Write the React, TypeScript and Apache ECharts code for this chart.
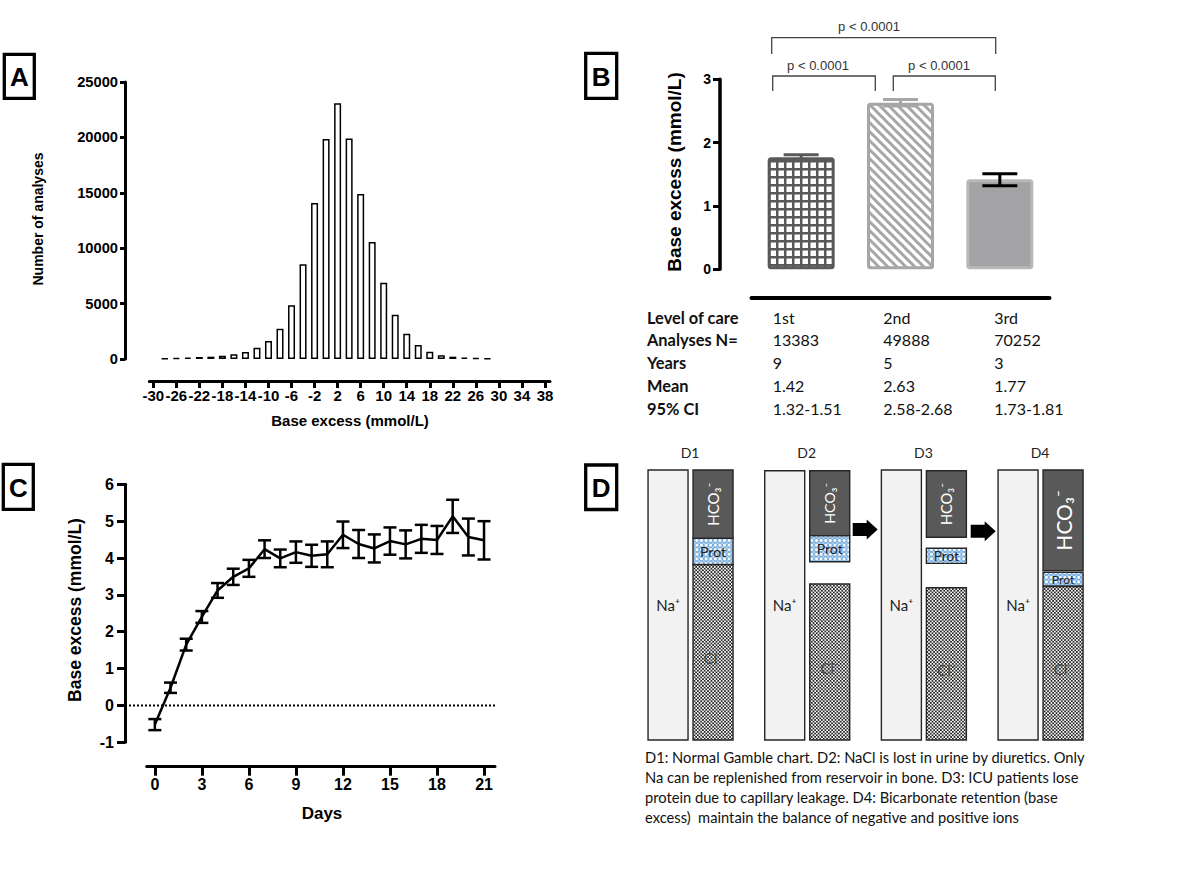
import React, { useEffect, useRef } from "react";
import * as echarts from "echarts";

// ---------- Panel A: histogram ----------
const histBins = [-28, -26, -24, -22, -20, -18, -16, -14, -12, -10, -8, -6, -4, -2, 0, 2, 4, 6, 8, 10, 12, 14, 16, 18, 20, 22, 24, 26, 28];
const histCounts = [60, 90, 120, 180, 210, 300, 420, 630, 1020, 1620, 2730, 4840, 8560, 14090, 19860, 23080, 19890, 14900, 10550, 6880, 4000, 2280, 1260, 660, 330, 210, 120, 90, 60];
const histXTicks = [-30, -26, -22, -18, -14, -10, -6, -2, 2, 6, 10, 14, 18, 22, 26, 30, 34, 38];

// ---------- Panel B: bars + table ----------
const careLevels = ["1st", "2nd", "3rd"];
const barMeans = [1.77, 2.63, 1.42];
const barCILow = [1.73, 2.58, 1.32];
const barCIHigh = [1.81, 2.68, 1.51];
const tableRowLabels = ["Level of care", "Analyses N=", "Years", "Mean", "95% CI"];
const tableAnalyses = ["13383", "49888", "70252"];
const tableYears = ["9", "5", "3"];
const tableMeans = ["1.42", "2.63", "1.77"];
const tableCI = ["1.32-1.51", "2.58-2.68", "1.73-1.81"];
const pValueLabel = "p < 0.0001";

// ---------- Panel C: time course ----------
const days = [0, 1, 2, 3, 4, 5, 6, 7, 8, 9, 10, 11, 12, 13, 14, 15, 16, 17, 18, 19, 20, 21];
const dayMeans = [-0.52, 0.48, 1.65, 2.4, 3.12, 3.49, 3.72, 4.24, 3.99, 4.16, 4.06, 4.1, 4.63, 4.38, 4.26, 4.46, 4.37, 4.52, 4.49, 5.13, 4.57, 4.48];
const daySem = [0.15, 0.14, 0.16, 0.16, 0.2, 0.22, 0.23, 0.24, 0.24, 0.29, 0.3, 0.35, 0.36, 0.38, 0.38, 0.37, 0.38, 0.38, 0.38, 0.45, 0.5, 0.52];
const dayTicks = [0, 3, 6, 9, 12, 15, 18, 21];

// ---------- Panel D: Gamble charts (relative units, 0-100) ----------
const gambleColumns = ["D1", "D2", "D3", "D4"];
const naRange = [[0, 100], [0, 99.7], [0, 100], [0, 100]];
const clRange = [[0, 65], [0, 57.8], [0, 56.4], [0, 56.8]];
const protRange = [[65, 74.7], [66, 75.7], [65.4, 71], [57.1, 62.1]];
const hco3Range = [[74.7, 100], [75.7, 99.7], [75.1, 99.7], [62.7, 100]];
const captionLines = [
  "D1: Normal Gamble chart. D2: NaCl is lost in urine by diuretics. Only",
  "Na can be replenished from reservoir in bone. D3: ICU patients lose",
  "protein due to capillary leakage. D4: Bicarbonate retention (base",
  "excess)  maintain the balance of negative and positive ions",
];

const ARIAL = '"Liberation Sans", Arial, sans-serif';
const CAL = 'Lato, "DejaVu Sans", sans-serif';

function tile(w: number, h: number, body: string) {
  return {
    image:
      "data:image/svg+xml;charset=utf-8," +
      encodeURIComponent(
        `<svg xmlns="http://www.w3.org/2000/svg" width="${w}" height="${h}" viewBox="0 0 ${w} ${h}">${body}</svg>`
      ),
    repeat: "repeat",
    imageWidth: w,
    imageHeight: h,
  };
}

const gridTile = tile(8, 8, `<rect width="8" height="8" fill="#595959"/><rect x="2.5" y="2.5" width="5.5" height="5.5" fill="#fff"/>`);
const stripeTile = tile(
  9,
  9,
  `<rect width="9" height="9" fill="#fff"/><path d="M0,0L9,9M-4.5,4.5L4.5,13.5M4.5,-4.5L13.5,4.5" stroke="#a6a6a6" stroke-width="3"/>`
);
const protTile = tile(
  4.6,
  4.6,
  `<rect width="4.6" height="4.6" fill="#6fa8dc"/><circle cx="2.3" cy="2.3" r="1.5" fill="#fff"/><circle cx="0" cy="0" r="0.8" fill="#fff"/><circle cx="4.6" cy="0" r="0.8" fill="#fff"/><circle cx="0" cy="4.6" r="0.8" fill="#fff"/><circle cx="4.6" cy="4.6" r="0.8" fill="#fff"/>`
);
const clTile = tile(
  3.4,
  3.4,
  `<rect width="3.4" height="3.4" fill="#fff"/><rect x="0" y="0" width="1.7" height="1.7" fill="#222"/><rect x="1.7" y="1.7" width="1.7" height="1.7" fill="#222"/><rect x="1.2" y="1.2" width="0.8" height="0.8" fill="#666"/>`
);

const barStyles = [
  { color: gridTile, borderColor: "#595959", borderWidth: 3, borderRadius: 2 },
  { color: stripeTile, borderColor: "#a6a6a6", borderWidth: 3, borderRadius: 2 },
  { color: "#a3a3a5", borderColor: "#b8b8b8", borderWidth: 3, borderRadius: 2 },
];
const errColorsB = ["#595959", "#a6a6a6", "#000"];

const makeErrorBar = (capW: number, lw: number, colorFor: (i: number) => string) => (params: any, api: any) => {
  const x = api.value(0);
  const lo = api.value(1);
  const hi = api.value(2);
  const pLo = api.coord([x, lo]);
  const pHi = api.coord([x, hi]);
  const st = { stroke: colorFor(params.dataIndex), lineWidth: lw, fill: "none" };
  return {
    type: "group",
    children: [
      { type: "line", shape: { x1: pLo[0], y1: pLo[1], x2: pHi[0], y2: pHi[1] }, style: st },
      { type: "line", shape: { x1: pLo[0] - capW / 2, y1: pLo[1], x2: pLo[0] + capW / 2, y2: pLo[1] }, style: st },
      { type: "line", shape: { x1: pHi[0] - capW / 2, y1: pHi[1], x2: pHi[0] + capW / 2, y2: pHi[1] }, style: st },
    ],
  };
};

type Kind = "na" | "cl" | "prot" | "hco3";
const gambleRender = (kind: Kind) => (params: any, api: any) => {
  const i = api.value(0);
  const lo = api.value(1);
  const hi = api.value(2);
  const cx = api.coord([i, 0])[0];
  const yB = api.coord([i, lo])[1];
  const yT = api.coord([i, hi])[1];
  const w = 40;
  const x0 = kind === "na" ? cx - 42 : cx + 3;
  const h = yB - yT;
  const fills: Record<Kind, any> = { na: "#f2f2f2", cl: clTile, prot: protTile, hco3: "#595959" };
  const children: any[] = [
    { type: "rect", shape: { x: x0, y: yT, width: w, height: h }, style: { fill: fills[kind], stroke: "#262626", lineWidth: 1.4 } },
  ];
  const mx = x0 + w / 2;
  const my = (yT + yB) / 2;
  if (kind === "na") {
    children.push({ type: "text", x: mx, y: my, style: { text: "Na⁺", fontFamily: CAL, fontSize: 15, fill: "#222", align: "center", verticalAlign: "middle" } });
  } else if (kind === "cl") {
    children.push({ type: "text", x: mx, y: my + 6, style: { text: "Cl⁻", fontFamily: CAL, fontSize: 15, fill: "#4a4a4a", align: "center", verticalAlign: "middle" } });
  } else if (kind === "prot") {
    children.push({ type: "text", x: mx, y: my, style: { text: "Prot", fontFamily: CAL, fontSize: Math.min(14, h * 0.9), fill: "#222", align: "center", verticalAlign: "middle" } });
  } else {
    children.push({
      type: "text",
      x: mx,
      y: my,
      rotation: Math.PI / 2,
      style: { text: "HCO₃⁻", fontFamily: CAL, fontSize: Math.min(21, h * 0.22), fill: "#fff", align: "center", verticalAlign: "middle" },
    });
  }
  return { type: "group", children };
};

const gambleSeries = (kind: Kind, ranges: number[][]) => ({
  type: "custom",
  xAxisIndex: 3,
  yAxisIndex: 3,
  data: ranges.map((r, i) => [i, r[0], r[1]]),
  encode: { x: 0, y: [1, 2] },
  renderItem: gambleRender(kind),
  silent: true,
});

const bold = (size: number) => ({ fontFamily: ARIAL, fontWeight: "bold", fontSize: size, color: "#000" });
const plain = (v: number) => String(v);

function buildOption(): any {
  const texts: any[] = [];
  const txt = (x: number, y: number, text: string, o: any = {}) =>
    texts.push({
      type: "text",
      x,
      y,
      rotation: o.rotation || 0,
      silent: true,
      style: {
        text,
        fontFamily: o.fontFamily || ARIAL,
        fontWeight: o.fontWeight || "normal",
        fontSize: o.fontSize || 14,
        fill: o.fill || "#000",
        align: o.align || "center",
        verticalAlign: "middle",
      },
    });

  // panel letter boxes
  const boxes: [string, number, number, number, number][] = [
    ["A", 4.3, 54.3, 30, 44],
    ["B", 585.7, 53.3, 31, 45],
    ["C", 3.3, 464.3, 30, 45],
    ["D", 585.7, 465, 31, 44.5],
  ];
  const boxEls = boxes.map(([l, x, y, w, h]) => ({
    type: "rect",
    silent: true,
    shape: { x, y, width: w, height: h },
    style: { fill: "none", stroke: "#000", lineWidth: 3.3 },
  }));
  boxes.forEach(([l, x, y, w, h]) => txt(x + w / 2, y + h / 2 + 1, l, { fontWeight: "bold", fontSize: 26 }));

  // axis titles
  txt(38, 219, "Number of analyses", { fontWeight: "bold", fontSize: 14, rotation: Math.PI / 2 });
  txt(350, 420, "Base excess (mmol/L)", { fontWeight: "bold", fontSize: 15 });
  txt(674, 172, "Base excess (mmol/L)", { fontWeight: "bold", fontSize: 19, rotation: Math.PI / 2 });
  txt(75, 610, "Base excess (mmol/L)", { fontWeight: "bold", fontSize: 17.5, rotation: Math.PI / 2 });
  txt(322, 813, "Days", { fontWeight: "bold", fontSize: 17 });

  // significance brackets
  const brackets = [
    [[772.7, 91], [772.7, 76], [875.3, 76], [875.3, 91]],
    [[893.3, 91], [893.3, 76], [995.3, 76], [995.3, 91]],
    [[771.7, 54], [771.7, 37.7], [995.7, 37.7], [995.7, 54]],
  ];
  const bracketEls = brackets.map((pts) => ({
    type: "polyline",
    silent: true,
    shape: { points: pts },
    style: { stroke: "#444", lineWidth: 1.3, fill: "none" },
  }));
  txt(818, 65, pValueLabel, { fontSize: 13, fill: "#333" });
  txt(939, 65, pValueLabel, { fontSize: 13, fill: "#333" });
  txt(869, 26, pValueLabel, { fontSize: 13, fill: "#333" });

  // table under panel B
  const rowsY = [317, 339.7, 362, 385, 408];
  const colX = [772.7, 883.3, 994.3];
  const tableCols = [careLevels, tableAnalyses, tableYears, tableMeans, tableCI];
  tableRowLabels.forEach((lab, r) => {
    txt(647, rowsY[r], lab, { fontFamily: CAL, fontWeight: "bold", fontSize: 16.4, align: "left", fill: "#111" });
    tableCols[r].forEach((v, c) => txt(colX[c], rowsY[r], v, { fontFamily: CAL, fontSize: 16, align: "left", fill: "#111" }));
  });

  // caption of D
  captionLines.forEach((line, k) => txt(645, 756.7 + k * 20, line, { fontFamily: CAL, fontSize: 14.7, align: "left", fill: "#111" }));

  // arrows in D
  const arrow = (x: number, cy: number) => ({
    type: "polygon",
    silent: true,
    shape: {
      points: [
        [x, cy - 6.5],
        [x + 14, cy - 6.5],
        [x + 14, cy - 10],
        [x + 25, cy],
        [x + 14, cy + 10],
        [x + 14, cy + 6.5],
        [x, cy + 6.5],
      ],
    },
    style: { fill: "#000" },
  });

  const line3 = (w: number) => ({ show: true, onZero: false, lineStyle: { color: "#000", width: w } });

  return {
    animation: false,
    backgroundColor: "#fff",
    grid: [
      { left: 149.3, top: 82, width: 400.7, height: 277 },
      { left: 751.5, top: 79.3, width: 298, height: 190 },
      { left: 146.7, top: 484.3, width: 348.3, height: 258 },
      { left: 631.7, top: 470, width: 466.7, height: 270 },
    ],
    xAxis: [
      {
        gridIndex: 0,
        type: "value",
        min: -30.69,
        max: 38.87,
        offset: 22,
        axisLine: line3(3),
        axisTick: { show: true, length: 7, lineStyle: { color: "#000", width: 3 }, customValues: histXTicks },
        axisLabel: { ...bold(15), margin: 7, customValues: histXTicks, formatter: plain },
        splitLine: { show: false },
      },
      {
        gridIndex: 1,
        type: "category",
        data: careLevels,
        offset: 28.7,
        axisLine: line3(4),
        axisTick: { show: false },
        axisLabel: { show: false },
      },
      {
        gridIndex: 2,
        type: "value",
        min: -0.52,
        max: 21.7,
        offset: 24.4,
        axisLine: line3(3),
        axisTick: { show: true, length: 9, lineStyle: { color: "#000", width: 3 }, customValues: dayTicks },
        axisLabel: { ...bold(16), margin: 10, customValues: dayTicks, formatter: plain },
        splitLine: { show: false },
      },
      {
        gridIndex: 3,
        type: "category",
        data: gambleColumns,
        position: "top",
        axisLine: { show: false, onZero: false },
        axisTick: { show: false },
        axisLabel: { fontFamily: CAL, fontSize: 14, color: "#222", margin: 11 },
      },
    ],
    yAxis: [
      {
        gridIndex: 0,
        type: "value",
        min: 0,
        max: 25000,
        interval: 5000,
        offset: 24.3,
        axisLine: line3(3),
        axisTick: { show: true, length: 5, lineStyle: { color: "#000", width: 3 } },
        axisLabel: { ...bold(14.7), margin: 7, formatter: plain },
        splitLine: { show: false },
      },
      {
        gridIndex: 1,
        type: "value",
        min: 0,
        max: 3,
        interval: 1,
        offset: 31.5,
        axisLine: line3(3.5),
        axisTick: { show: true, length: 7, lineStyle: { color: "#000", width: 3 } },
        axisLabel: { ...bold(14), margin: 9, formatter: plain },
        splitLine: { show: false },
      },
      {
        gridIndex: 2,
        type: "value",
        min: -1,
        max: 6,
        interval: 1,
        offset: 21.7,
        axisLine: line3(3),
        axisTick: { show: true, length: 8, lineStyle: { color: "#000", width: 3 } },
        axisLabel: { ...bold(16), margin: 11, formatter: plain },
        splitLine: { show: false },
      },
      { gridIndex: 3, type: "value", min: 0, max: 100, show: false, axisLine: { onZero: false } },
    ],
    series: [
      {
        type: "bar",
        xAxisIndex: 0,
        yAxisIndex: 0,
        barWidth: 7,
        data: histBins.map((b, i) => [b, histCounts[i]]),
        itemStyle: { color: "#fff", borderColor: "#000", borderWidth: 1.5 },
        silent: true,
      },
      {
        type: "bar",
        xAxisIndex: 1,
        yAxisIndex: 1,
        barWidth: 67,
        data: barMeans.map((v, i) => ({ value: v, itemStyle: barStyles[i] })),
        silent: true,
      },
      {
        type: "custom",
        xAxisIndex: 1,
        yAxisIndex: 1,
        data: careLevels.map((_, i) => [i, barCILow[i], barCIHigh[i]]),
        encode: { x: 0, y: [1, 2] },
        renderItem: makeErrorBar(35, 3, (i) => errColorsB[i]),
        silent: true,
        z: 5,
      },
      {
        type: "custom",
        xAxisIndex: 2,
        yAxisIndex: 2,
        data: [[0, 0]],
        encode: { x: 0, y: 1 },
        renderItem: (params: any, api: any) => {
          const cs = params.coordSys;
          const y = api.coord([0, 0])[1];
          return {
            type: "line",
            shape: { x1: cs.x - 21.7, y1: y, x2: cs.x + cs.width, y2: y },
            style: { stroke: "#000", lineWidth: 2, lineDash: [2, 2] },
          };
        },
        silent: true,
        z: 1,
      },
      {
        type: "line",
        xAxisIndex: 2,
        yAxisIndex: 2,
        data: days.map((d, i) => [d, dayMeans[i]]),
        symbol: "none",
        showSymbol: false,
        lineStyle: { color: "#000", width: 2.5 },
        silent: true,
        z: 3,
      },
      {
        type: "custom",
        xAxisIndex: 2,
        yAxisIndex: 2,
        data: days.map((d, i) => [d, dayMeans[i] - daySem[i], dayMeans[i] + daySem[i]]),
        encode: { x: 0, y: [1, 2] },
        renderItem: makeErrorBar(13, 2.5, () => "#000"),
        silent: true,
        z: 4,
      },
      gambleSeries("na", naRange),
      gambleSeries("cl", clRange),
      gambleSeries("prot", protRange),
      gambleSeries("hco3", hco3Range),
    ],
    graphic: [...boxEls, ...bracketEls, arrow(852.7, 529.5), arrow(970.7, 531.2), ...texts],
  };
}

export default function App() {
  const ref = useRef<HTMLDivElement>(null);
  useEffect(() => {
    const chart = echarts.init(ref.current as HTMLDivElement, null, { renderer: "svg" });
    chart.setOption(buildOption());
    return () => chart.dispose();
  }, []);
  return (
    <div
      ref={ref}
      style={{ position: "fixed", left: 0, top: 0, width: 1200, height: 872, background: "#fff" }}
    />
  );
}
